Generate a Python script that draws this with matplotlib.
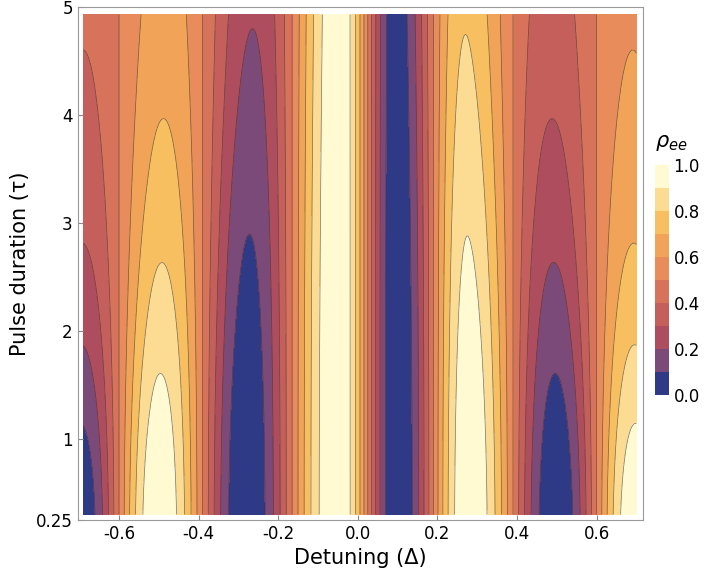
import numpy as np
import matplotlib
matplotlib.use("Agg")
import matplotlib.pyplot as plt
from matplotlib.colors import ListedColormap, BoundaryNorm

# fringe phase at detuning positions (peaks/troughs)
DET_KNOTS = [-0.70, -0.50, -0.28, -0.05, 0.10, 0.28, 0.50, 0.70]
PHASE_KNOTS = [-1, 0, 1, 2, 3, 4, 5, 6]   # in units of pi
WIDTH = 1.6          # contrast fall-off in (detuning * tau)
LEVELS = np.linspace(0, 1, 11)
BAND_COLORS = ["#2f3a86", "#7b4a78", "#ad4d5e", "#c45f5c", "#d7735b",
               "#e78c5a", "#f1a358", "#f7bf5f", "#fbdc92", "#fffad2"]
YTICKS = [0.25, 1, 2, 3, 4, 5]
XTICKS = [-0.6, -0.4, -0.2, 0.0, 0.2, 0.4, 0.6]

det = np.linspace(-0.69, 0.70, 500)
tau = np.linspace(0.3, 4.93, 400)
D, T = np.meshgrid(det, tau)
phase = np.pi * np.interp(D, DET_KNOTS, PHASE_KNOTS)
contrast = 1.0 / (1.0 + (D * T / WIDTH) ** 2)
rho = np.clip(0.5 + 0.5 * contrast * np.cos(phase), 0, 0.9999)

cmap = ListedColormap(BAND_COLORS)
norm = BoundaryNorm(LEVELS, cmap.N)

fig = plt.figure(figsize=(7.06, 5.79), dpi=100)
ax = fig.add_axes([0.110, 0.102, 0.801, 0.886])
cf = ax.contourf(D, T, rho, levels=LEVELS, cmap=cmap, norm=norm)
ax.contour(D, T, rho, levels=LEVELS[1:-1], colors="#3a3030", linewidths=0.5, alpha=0.7)
ax.set_xlim(-0.704, 0.717)
ax.set_ylim(0.25, 5)
ax.set_xticks(XTICKS)
ax.set_xticklabels([f"{v:.1f}" for v in XTICKS])
ax.set_yticks(YTICKS)
ax.set_yticklabels(["0.25", "1", "2", "3", "4", "5"])
ax.tick_params(labelsize=12, direction="in", color="#888888")
for s in ax.spines.values():
    s.set_color("#999999")
ax.set_xlabel("Detuning (Δ)", fontsize=15)
ax.set_ylabel("Pulse duration (τ)", fontsize=15)

cax = fig.add_axes([0.928, 0.318, 0.019, 0.397])
cb = fig.colorbar(cf, cax=cax, ticks=[0, 0.2, 0.4, 0.6, 0.8, 1.0])
cb.ax.minorticks_off()
cb.ax.set_yticklabels(["0.0", "0.2", "0.4", "0.6", "0.8", "1.0"])
cb.ax.tick_params(labelsize=12, length=0)
cb.outline.set_visible(False)
fig.text(0.928, 0.735, r"$\rho_{ee}$", fontsize=15, ha="left", va="bottom")

fig.savefig("out.png", dpi=100)
